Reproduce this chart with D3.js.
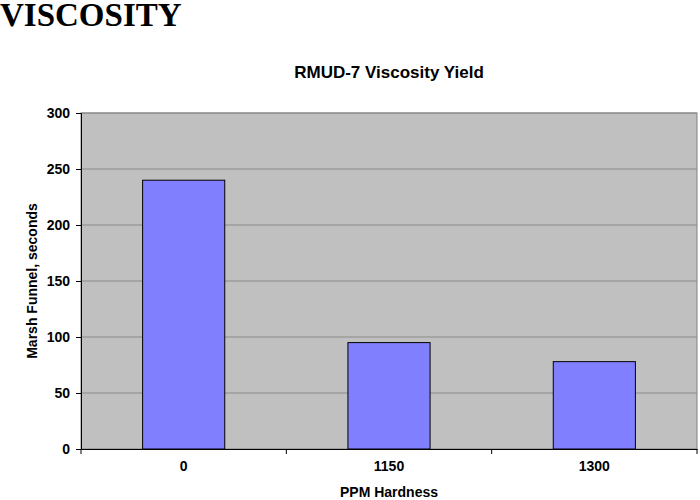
<!DOCTYPE html>
<html><head><meta charset="utf-8">
<script src="https://cdn.jsdelivr.net/npm/d3@7"></script>
<style>body{margin:0;background:#fff}</style></head>
<body><svg id="c" width="700" height="500"></svg>
<script>
const categories = ["0", "1150", "1300"];
const values = [240, 95, 78];
const yTicks = [0, 50, 100, 150, 200, 250, 300];

const svg = d3.select("#c");
const m = {l: 81, r: 697, t: 113, b: 449};
const x = d3.scaleBand().domain(categories).range([m.l, m.r]).paddingInner(0.6).paddingOuter(0.3);
const y = d3.scaleLinear().domain([0, 300]).range([m.b, m.t]);

svg.append("text").attr("x", 0).attr("y", 26).attr("font-family", "Liberation Serif, serif")
  .attr("font-weight", "bold").attr("font-size", 33).text("VISCOSITY");
svg.append("text").attr("x", 389).attr("y", 78).attr("text-anchor", "middle")
  .attr("font-family", "Liberation Sans, Arial").attr("font-weight", "bold").attr("font-size", 17)
  .text("RMUD-7 Viscosity Yield");

svg.append("rect").attr("x", m.l).attr("y", m.t).attr("width", m.r - m.l).attr("height", m.b - m.t)
  .attr("fill", "#c0c0c0").attr("stroke", "#808080");
svg.selectAll(".g").data(yTicks.slice(1)).enter().append("line")
  .attr("x1", m.l).attr("x2", m.r).attr("y1", d => y(d)).attr("y2", d => y(d))
  .attr("stroke", "#8a8a8a").attr("stroke-width", 1);

svg.selectAll(".bar").data(values).enter().append("rect")
  .attr("x", (d, i) => x(categories[i])).attr("width", x.bandwidth())
  .attr("y", d => y(d)).attr("height", d => y(0) - y(d))
  .attr("fill", "#8080ff").attr("stroke", "#000").attr("stroke-width", 1);

const ya = svg.append("g").attr("transform", `translate(${m.l},0)`)
  .call(d3.axisLeft(y).tickValues(yTicks).tickSize(5).tickPadding(6));
const xa = svg.append("g").attr("transform", `translate(0,${m.b})`)
  .call(d3.axisBottom(x).tickSize(0).tickPadding(12));
[ya, xa].forEach(a => {
  a.selectAll("text").attr("font-family", "Liberation Sans, Arial").attr("font-weight", "bold")
    .attr("font-size", 14).attr("fill", "#000");
  a.selectAll("line,path").attr("stroke", "#000");
});
xa.selectAll("line").remove();
const bounds = [m.l, ...categories.slice(1).map(c => x(c) - x.step() * x.paddingInner() / 2), m.r];
svg.selectAll(".xt").data(bounds).enter().append("line")
  .attr("x1", d => d).attr("x2", d => d).attr("y1", m.b).attr("y2", m.b + 5).attr("stroke", "#000");

svg.append("text").attr("x", 389).attr("y", 497).attr("text-anchor", "middle")
  .attr("font-family", "Liberation Sans, Arial").attr("font-weight", "bold").attr("font-size", 14)
  .text("PPM Hardness");
svg.append("text").attr("transform", "translate(37,281) rotate(-90)").attr("text-anchor", "middle")
  .attr("font-family", "Liberation Sans, Arial").attr("font-weight", "bold").attr("font-size", 14)
  .text("Marsh Funnel, seconds");
</script></body></html>
